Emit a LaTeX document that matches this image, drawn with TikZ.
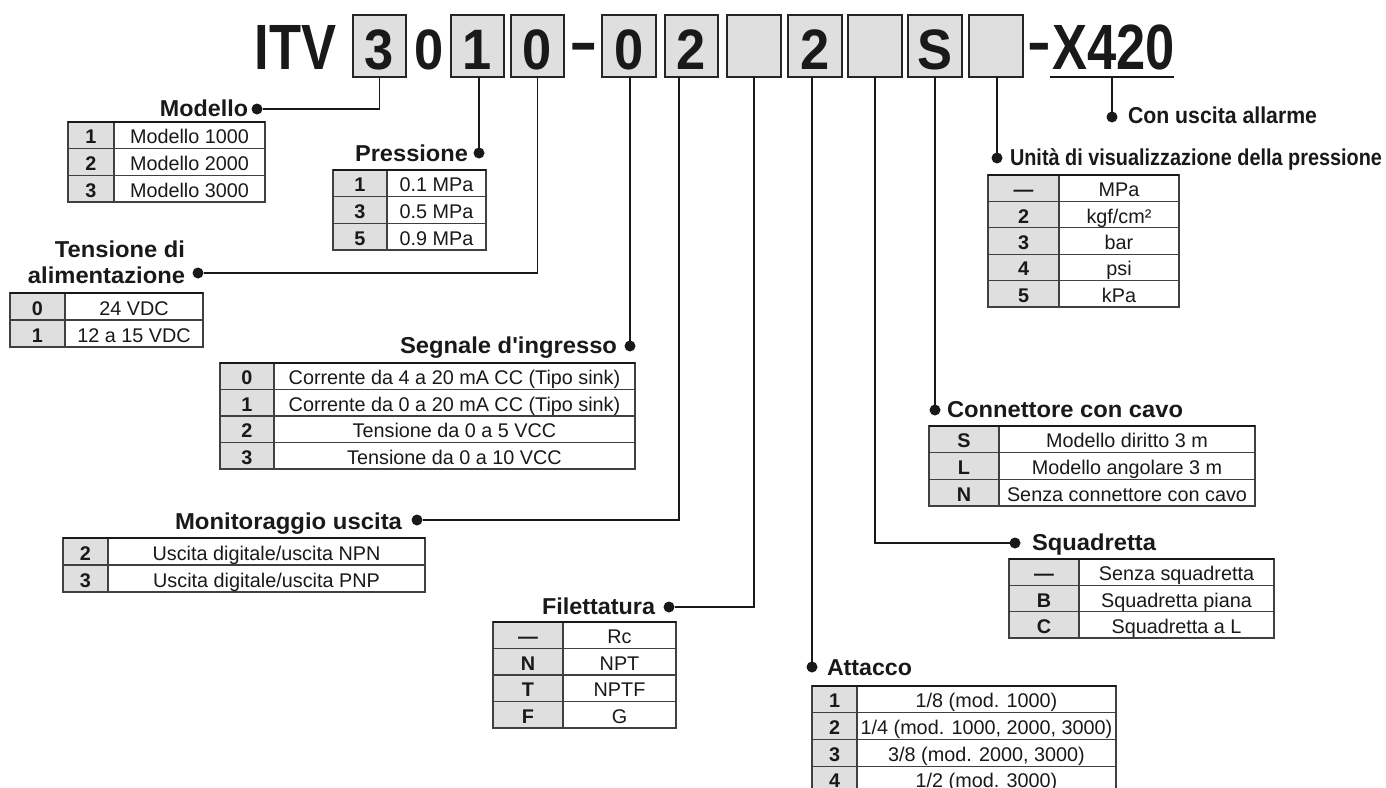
\documentclass[tikz,border=0pt]{standalone}
\usepackage{fontspec}
\setmainfont{Liberation Sans}
\usepackage{graphicx}
\newcommand\bigdig{\fontsize{57}{57}\selectfont\bfseries}
\newcommand\dg[1]{\scalebox{0.92}[1]{#1}}
\newcommand\hd[2]{\resizebox{#1pt}{\height}{\fontsize{23}{23}\selectfont\bfseries #2}}
\newcommand\settab[6]{\def\tN{#1}\def\tL{#2}\def\tD{#3}\def\tR{#4}\def\tT{#5}\def\tH{#6}%
  \pgfmathsetmacro\kw{#3-#2}\pgfmathsetmacro\vw{#4-#3}}
\newcommand\trow[3]{%
  \node[kcell, minimum width=\kw pt, minimum height=\tH pt, anchor=north west] (\tN k#1) at (\tL,{\tT+(#1-1)*\tH}) {#2};
  \node[vcell, minimum width=\vw pt, minimum height=\tH pt, anchor=north west] (\tN v#1) at (\tD,{\tT+(#1-1)*\tH}) {#3};}
\newcommand\ttop{\draw[topline] (\tN k1.north west) -- (\tN v1.north east);}
\begin{document}
\begin{tikzpicture}[x=1pt,y=-1pt,
  codebox/.style={draw=black!85, line width=2.2pt, fill=gray!25, minimum width=53.5pt, minimum height=62pt,
    inner sep=0pt, outer sep=0pt, text height=47.7pt, text depth=0pt, font=\bigdig, text=black!90},
  digtxt/.style={inner sep=0pt, outer sep=0pt, font=\bigdig, text=black!90},
  bigtxt/.style={inner sep=0pt, outer sep=0pt, font=\fontsize{64}{64}\selectfont\bfseries, text=black!90},
  kcell/.style={draw=black!75, line width=1.1pt, fill=gray!25, inner sep=0pt, outer sep=0pt,
    text height=17pt, text depth=0pt, font=\fontsize{19.8}{20}\selectfont\bfseries, text=black!90},
  vcell/.style={draw=black!75, line width=1.1pt, fill=white, inner sep=0pt, outer sep=0pt,
    text height=17pt, text depth=0pt, font=\fontsize{19.8}{20}\selectfont, text=black!90},
  topline/.style={line width=2.6pt, black!90},
  conn/.style={line width=1.8pt, black!90},
  dotn/.style={circle, fill=black!90, inner sep=0pt, outer sep=0pt, minimum size=11pt},
  headtxt/.style={inner sep=0pt, outer sep=0pt, text=black!90}]
\useasboundingbox (0,0) rectangle (1386,787);
\clip (0,0) rectangle (1386,787);

% ---------- code line ----------
\node[bigtxt, anchor=base] (itv) at (295.5,69.6) {\scalebox{0.82}[1]{ITV}};
\node[codebox] (b1) at (379.5,45.75) {\dg{3}};
\node[digtxt, anchor=base] (z0) at (429.5,69.6) {\dg{0}};
\node[codebox] (b2) at (477.5,45.75) {\dg{1}};
\node[codebox] (b3) at (537.5,45.75) {\dg{0}};
\node[digtxt, anchor=base] (dash1) at (583.5,61) {\scalebox{1.5}[1]{-}};
\node[codebox] (b4) at (629,45.75) {\dg{0}};
\node[codebox] (b5) at (691.5,45.75) {\dg{2}};
\node[codebox] (b6) at (754,45.75) {};
\node[codebox] (b7) at (815,45.75) {\dg{2}};
\node[codebox] (b8) at (875,45.75) {};
\node[codebox] (b9) at (935,45.75) {\dg{S}};
\node[codebox] (b10) at (996,45.75) {};
\node[digtxt, anchor=base] (dash2) at (1039.5,61.5) {\scalebox{1.25}[1]{-}};
\node[bigtxt, anchor=base] (x420) at (1113.5,69.6) {\scalebox{0.82}[1]{X420}};
\coordinate (ulL) at (1050,77);
\coordinate (ulR) at (1174,77);
\coordinate (ul) at (1112,77);
\draw[line width=2pt, black!90] (ulL) -- (ulR);

% ---------- dots ----------
\node[dotn] (dMod) at (257,109) {};
\node[dotn] (dPre) at (479,153) {};
\node[dotn] (dTen) at (198,273) {};
\node[dotn] (dSeg) at (630,346) {};
\node[dotn] (dMon) at (417,520) {};
\node[dotn] (dFil) at (669,607) {};
\node[dotn] (dAtt) at (812,667) {};
\node[dotn] (dSq) at (1015,543) {};
\node[dotn] (dCon) at (935,410) {};
\node[dotn] (dUni) at (997,158) {};
\node[dotn] (dAll) at (1112,117) {};

% ---------- connectors ----------
\draw[conn] (b1.south) |- (dMod);
\draw[conn] (b2.south -| dPre) -- (dPre);
\draw[conn] (b3.south) |- (dTen);
\draw[conn] (b4.south -| dSeg) -- (dSeg);
\draw[conn] (b5.south) ++(-12.5,0) |- (dMon);
\draw[conn] (b6.south) |- (dFil);
\draw[conn] (b7.south -| dAtt) -- (dAtt);
\draw[conn] (b8.south) |- (dSq);
\draw[conn] (b9.south -| dCon) -- (dCon);
\draw[conn] (b10.south -| dUni) -- (dUni);
\draw[conn] (ul) -- (dAll);

% ---------- headings ----------
\node[headtxt, anchor=base east] (hMod) at (248,116) {\hd{88}{Modello}};
\node[headtxt, anchor=base east] (hPre) at (468,161) {\hd{113}{Pressione}};
\node[headtxt, anchor=base east] (hTen1) at (185,257) {\hd{130}{Tensione di}};
\node[headtxt, anchor=base east] (hTen2) at (185,283) {\hd{157}{alimentazione}};
\node[headtxt, anchor=base east] (hSeg) at (617,353) {\hd{217}{Segnale d\textquotesingle ingresso}};
\node[headtxt, anchor=base east] (hMon) at (402,529) {\hd{227}{Monitoraggio uscita}};
\node[headtxt, anchor=base east] (hFil) at (655,614) {\hd{113}{Filettatura}};
\node[headtxt, anchor=base west] (hAtt) at (827,675) {\hd{85}{Attacco}};
\node[headtxt, anchor=base west] (hSq) at (1032,550) {\hd{124}{Squadretta}};
\node[headtxt, anchor=base west] (hCon) at (947,417) {\hd{236}{Connettore con cavo}};
\node[headtxt, anchor=base west] (hUni) at (1010,165) {\hd{372}{Unità di visualizzazione della pressione}};
\node[headtxt, anchor=base west] (hAll) at (1128,123) {\hd{189}{Con uscita allarme}};

% ---------- tables ----------
\settab{mod}{68}{114}{265}{122}{26.67}
\trow{1}{1}{Modello 1000}
\trow{2}{2}{Modello 2000}
\trow{3}{3}{Modello 3000}
\ttop

\settab{pre}{333}{387}{486}{170}{26.67}
\trow{1}{1}{0.1 MPa}
\trow{2}{3}{0.5 MPa}
\trow{3}{5}{0.9 MPa}
\ttop

\settab{ten}{10}{65}{203}{293}{27}
\trow{1}{0}{24 VDC}
\trow{2}{1}{12 a 15 VDC}
\ttop

\settab{seg}{220}{274}{635}{363}{26.5}
\trow{1}{0}{Corrente da 4 a 20 mA CC (Tipo sink)}
\trow{2}{1}{Corrente da 0 a 20 mA CC (Tipo sink)}
\trow{3}{2}{Tensione da 0 a 5 VCC}
\trow{4}{3}{Tensione da 0 a 10 VCC}
\ttop

\settab{mon}{63}{108}{425}{538}{27}
\trow{1}{2}{Uscita digitale/uscita NPN}
\trow{2}{3}{Uscita digitale/uscita PNP}
\ttop

\settab{fil}{493}{563}{676}{622}{26.5}
\trow{1}{—}{Rc}
\trow{2}{N}{NPT}
\trow{3}{T}{NPTF}
\trow{4}{F}{G}
\ttop

\settab{att}{812}{857}{1116}{686}{26.7}
\trow{1}{1}{1/8 (mod. 1000)}
\trow{2}{2}{1/4 (mod. 1000, 2000, 3000)}
\trow{3}{3}{3/8 (mod. 2000, 3000)}
\trow{4}{4}{1/2 (mod. 3000)}
\ttop

\settab{uni}{988}{1059}{1179}{175}{26.4}
\trow{1}{—}{MPa}
\trow{2}{2}{kgf/cm²}
\trow{3}{3}{bar}
\trow{4}{4}{psi}
\trow{5}{5}{kPa}
\ttop

\settab{con}{929}{999}{1255}{426}{26.67}
\trow{1}{S}{Modello diritto 3 m}
\trow{2}{L}{Modello angolare 3 m}
\trow{3}{N}{Senza connettore con cavo}
\ttop

\settab{squ}{1009}{1079}{1274}{559}{26.33}
\trow{1}{—}{Senza squadretta}
\trow{2}{B}{Squadretta piana}
\trow{3}{C}{Squadretta a L}
\ttop
\end{tikzpicture}
\end{document}
